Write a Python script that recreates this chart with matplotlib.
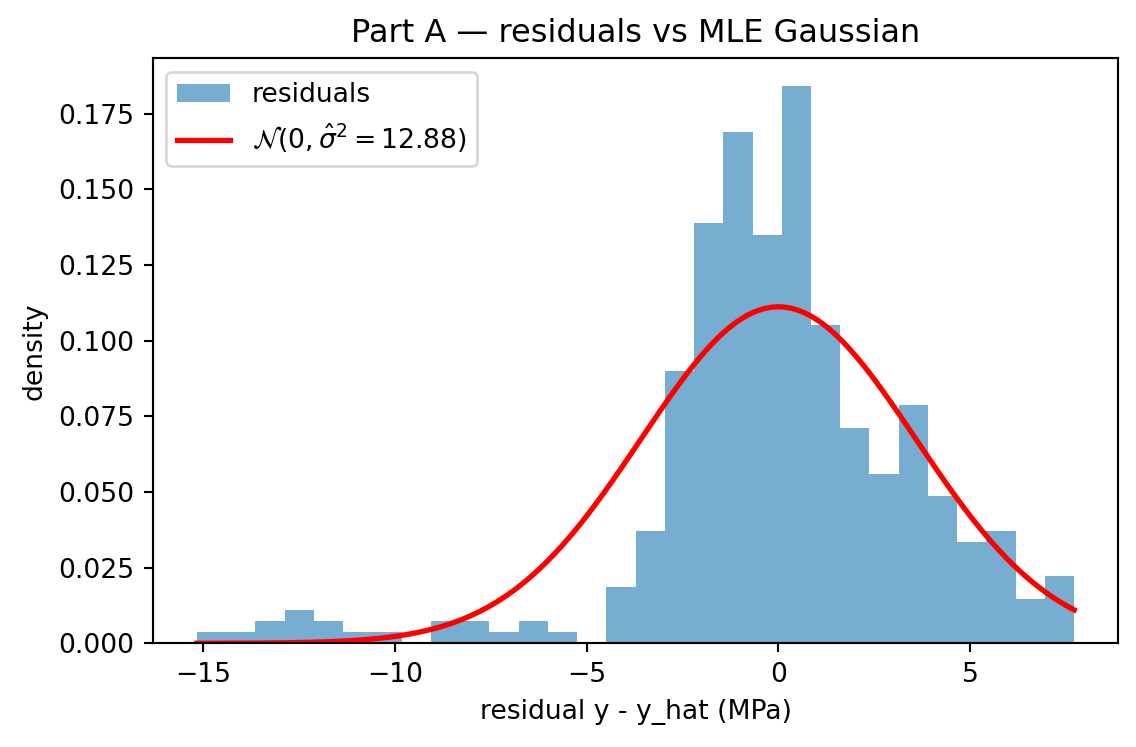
import numpy as np
import matplotlib
matplotlib.use('Agg')
import matplotlib.pyplot as plt

# residual range (min / max) and number of bins
res_min = -15.17
res_max = 7.715
n_bins = 30

# density per bin, left to right
bin_density = [0.0037, 0.0037, 0.0074, 0.0111, 0.0074, 0.0037, 0.0037, 0.0, 0.0074, 0.0074,
               0.0037, 0.0074, 0.0037, 0.0, 0.0186, 0.0371, 0.090, 0.139, 0.169, 0.135,
               0.184, 0.105, 0.0711, 0.0559, 0.0787, 0.0487, 0.0335, 0.0371, 0.0146, 0.0222]

sigma2_hat = 12.88

edges = np.linspace(res_min, res_max, n_bins + 1)
centers = 0.5 * (edges[:-1] + edges[1:])

dpi = 192
fig, ax = plt.subplots(figsize=(1136 / dpi, 747 / dpi), dpi=dpi)
fig.subplots_adjust(left=0.1347, right=0.9842, bottom=0.1388, top=0.9217)

ax.hist(centers, bins=edges, weights=bin_density, alpha=0.6, label='residuals')

xs = np.linspace(res_min, res_max, 400)
pdf = np.exp(-xs**2 / (2 * sigma2_hat)) / np.sqrt(2 * np.pi * sigma2_hat)
ax.plot(xs, pdf, color='red', lw=2,
        label=r'$\mathcal{N}(0,{\hat{\sigma}}^{2}=%.2f)$' % sigma2_hat)

ax.set_title('Part A \u2014 residuals vs MLE Gaussian')
ax.set_xlabel('residual y - y_hat (MPa)')
ax.set_ylabel('density')
ax.legend(loc='upper left')

fig.savefig('out.png', dpi=dpi)
